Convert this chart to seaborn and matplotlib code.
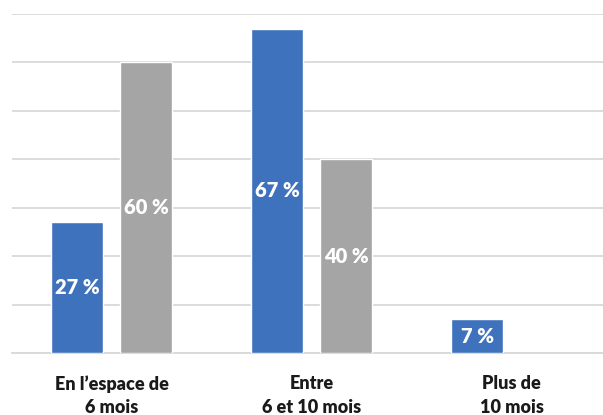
import numpy as np
import pandas as pd
import matplotlib
matplotlib.use("Agg")
import matplotlib.pyplot as plt
import seaborn as sns

categories = ["En l\u2019espace de\n6 mois", "Entre\n6 et 10 mois", "Plus de\n10 mois"]
series_names = ["Série 1", "Série 2"]
serie1 = [27, 67, 7]
serie2 = [60, 40, np.nan]
colors = ["#3F72BC", "#A5A5A5"]

df = pd.DataFrame({
    "cat": categories * 2,
    "serie": [series_names[0]] * 3 + [series_names[1]] * 3,
    "val": serie1 + serie2,
})

sns.set_theme(style="white")
plt.rcParams["font.family"] = ["Lato", "DejaVu Sans"]

fig = plt.figure(figsize=(6.03, 4.15), dpi=100)
ax = fig.add_axes([11.5 / 603, 62 / 415, 600 / 603, 339 / 415])

sns.barplot(data=df, x="cat", y="val", hue="serie", order=categories,
            hue_order=series_names, palette=colors, width=0.69, gap=0.246,
            saturation=1, legend=False, ax=ax, zorder=3)

ax.set_xlim(-0.5, 2.5)
ax.set_ylim(0, 70)
ax.set_yticks(np.arange(0, 71, 10))
ax.yaxis.grid(True, color="#D9D9D9", linewidth=1.3, zorder=0)
ax.set_axisbelow(True)
ax.tick_params(axis="y", left=False, labelleft=False)
ax.tick_params(axis="x", bottom=False, pad=10)
for s in ["top", "right", "left"]:
    ax.spines[s].set_visible(False)
ax.spines["bottom"].set_color("#D9D9D9")
ax.spines["bottom"].set_linewidth(1.3)
ax.set_xlabel("")
ax.set_ylabel("")
ax.set_xticks(range(len(categories)))
ax.set_xticklabels(categories, fontweight="heavy", fontsize=13,
                   color="#1a1a1a", linespacing=1.45)

for cont in ax.containers:
    for p in cont.patches:
        h = p.get_height()
        if h is None or np.isnan(h) or h <= 0:
            continue
        ax.text(p.get_x() + p.get_width() / 2, h / 2, f"{h:.0f} %",
                ha="center", va="center", color="white",
                fontweight="heavy", fontsize=14.5, zorder=5)

fig.savefig("out.png", dpi=100)
